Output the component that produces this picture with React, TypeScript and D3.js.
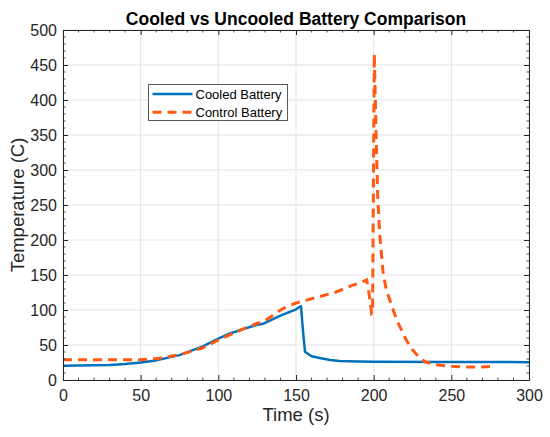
import * as d3 from "d3";
import { useRef, useEffect } from "react";

const WIDTH = 550;
const HEIGHT = 437;
const MARGIN = { top: 30, right: 21, bottom: 57, left: 63 };

const TITLE = "Cooled vs Uncooled Battery Comparison";
const X_LABEL = "Time (s)";
const Y_LABEL = "Temperature (C)";
const X_TICKS = [0, 50, 100, 150, 200, 250, 300];
const Y_TICKS = [0, 50, 100, 150, 200, 250, 300, 350, 400, 450, 500];
const SERIES_NAMES = ["Cooled Battery", "Control Battery"];
const COLORS = ["#0072BD", "#FF5A14"];

// cooled battery (solid)
const cooledTime = [0, 30, 40, 50, 60, 75, 90, 100, 107.5, 115, 125, 129, 140, 150, 153.2, 154.5, 155.8, 160, 166, 172, 178, 190, 200, 250, 300];
const cooledTemp = [20.5, 21.5, 23, 25, 28, 35.5, 48, 59, 66.5, 72, 79, 80.5, 92, 101, 105.7, 70, 40.4, 34, 31, 28.6, 27.2, 26.4, 26, 25.8, 25.5];

// control battery (dashed)
const controlTime = [0, 50, 60, 75, 90, 100, 115, 125, 129, 140, 145, 150, 165, 175, 185, 193, 195.5, 197, 198.7, 199.3, 200.4, 201.5, 202.6, 204, 206, 208, 211, 215, 221, 225, 229, 233, 240, 250, 260, 270, 278];
const controlTemp = [28.8, 29, 30.5, 36, 46, 57, 72, 81, 83, 100, 105.7, 110, 119, 125, 134, 140.5, 143, 124, 95, 96, 466, 357, 262, 205, 155, 130, 110, 85, 57, 43, 33, 26, 22, 19.5, 18.5, 18.5, 20];

const FONT = "'Liberation Sans', Arial, Helvetica, sans-serif";
const INK = "#262626";

export default function App() {
  const svgRef = useRef(null);

  useEffect(() => {
    const svg = d3.select(svgRef.current);
    svg.selectAll("*").remove();

    const iw = WIDTH - MARGIN.left - MARGIN.right;
    const ih = HEIGHT - MARGIN.top - MARGIN.bottom;

    const x = d3.scaleLinear().domain([0, 300]).range([0, iw]);
    const y = d3.scaleLinear().domain([0, 500]).range([ih, 0]);

    svg.append("rect").attr("width", WIDTH).attr("height", HEIGHT).attr("fill", "#fff");

    const g = svg.append("g").attr("transform", `translate(${MARGIN.left},${MARGIN.top})`);

    // grid
    g.append("g")
      .selectAll("line")
      .data(X_TICKS)
      .join("line")
      .attr("x1", (d) => x(d))
      .attr("x2", (d) => x(d))
      .attr("y1", 0)
      .attr("y2", ih)
      .attr("stroke", "#e3e3e3");
    g.append("g")
      .selectAll("line")
      .data(Y_TICKS)
      .join("line")
      .attr("y1", (d) => y(d))
      .attr("y2", (d) => y(d))
      .attr("x1", 0)
      .attr("x2", iw)
      .attr("stroke", "#e3e3e3");

    // lines
    const cooled = cooledTime.map((t, i) => [t, cooledTemp[i]]);
    const control = controlTime.map((t, i) => [t, controlTemp[i]]);
    const line = d3.line().x((d) => x(d[0])).y((d) => y(d[1]));

    g.append("path")
      .attr("d", line(cooled))
      .attr("fill", "none")
      .attr("stroke", COLORS[0])
      .attr("stroke-width", 2.5)
      .attr("stroke-linejoin", "round");
    g.append("path")
      .attr("d", line(control))
      .attr("fill", "none")
      .attr("stroke", COLORS[1])
      .attr("stroke-width", 3)
      .attr("stroke-dasharray", "9,6");

    // minor ticks, all four sides
    const xMinor = d3.range(0, 301, 10).filter((v) => v % 50 !== 0);
    const yMinor = d3.range(0, 501, 10).filter((v) => v % 50 !== 0);
    const minor = g.append("g").attr("stroke", INK).attr("stroke-width", 0.8);
    xMinor.forEach((v) => {
      minor.append("line").attr("x1", x(v)).attr("x2", x(v)).attr("y1", ih).attr("y2", ih - 2.5);
      minor.append("line").attr("x1", x(v)).attr("x2", x(v)).attr("y1", 0).attr("y2", 2.5);
    });
    yMinor.forEach((v) => {
      minor.append("line").attr("y1", y(v)).attr("y2", y(v)).attr("x1", 0).attr("x2", 2.5);
      minor.append("line").attr("y1", y(v)).attr("y2", y(v)).attr("x1", iw).attr("x2", iw - 2.5);
    });

    // axes
    const bottom = g.append("g")
      .attr("transform", `translate(0,${ih})`)
      .call(d3.axisBottom(x).tickValues(X_TICKS).tickSize(-5).tickSizeOuter(0).tickPadding(10));
    const left = g.append("g")
      .call(d3.axisLeft(y).tickValues(Y_TICKS).tickSize(-5).tickSizeOuter(0).tickPadding(6));
    const top = g.append("g")
      .call(d3.axisTop(x).tickValues(X_TICKS).tickSize(-5).tickSizeOuter(0).tickFormat(() => ""));
    const right = g.append("g")
      .attr("transform", `translate(${iw},0)`)
      .call(d3.axisRight(y).tickValues(Y_TICKS).tickSize(-5).tickSizeOuter(0).tickFormat(() => ""));

    [bottom, left, top, right].forEach((a) => {
      a.select(".domain").attr("stroke", INK);
      a.selectAll(".tick line").attr("stroke", INK);
      a.selectAll("text")
        .attr("fill", INK)
        .style("font-family", FONT)
        .style("font-size", "16px");
    });

    // legend
    const lg = svg.append("g").attr("transform", "translate(148.5,84.5)");
    lg.append("rect")
      .attr("width", 139)
      .attr("height", 36)
      .attr("fill", "#fff")
      .attr("stroke", "#5a5a5a");
    SERIES_NAMES.forEach((name, i) => {
      const ly = 9.5 + i * 18.3;
      lg.append("line")
        .attr("x1", 4)
        .attr("x2", 44)
        .attr("y1", ly)
        .attr("y2", ly)
        .attr("stroke", COLORS[i])
        .attr("stroke-width", i === 0 ? 2.5 : 3)
        .attr("stroke-dasharray", i === 0 ? null : "9,6");
      lg.append("text")
        .attr("x", 47)
        .attr("y", ly + 4.5)
        .attr("fill", "#000")
        .style("font-family", FONT)
        .style("font-size", "13px")
        .text(name);
    });

    // title and labels
    svg.append("text")
      .attr("x", MARGIN.left + iw / 2)
      .attr("y", 24.5)
      .attr("text-anchor", "middle")
      .attr("fill", "#000")
      .style("font-family", FONT)
      .style("font-weight", "bold")
      .style("font-size", "17.5px")
      .text(TITLE);
    svg.append("text")
      .attr("x", MARGIN.left + iw / 2)
      .attr("y", 421)
      .attr("text-anchor", "middle")
      .attr("fill", INK)
      .style("font-family", FONT)
      .style("font-size", "18.5px")
      .text(X_LABEL);
    svg.append("text")
      .attr("transform", `translate(24,${MARGIN.top + ih / 2}) rotate(-90)`)
      .attr("text-anchor", "middle")
      .attr("fill", INK)
      .style("font-family", FONT)
      .style("font-size", "18.5px")
      .text(Y_LABEL);
  }, []);

  return (
    <svg
      ref={svgRef}
      width={WIDTH}
      height={HEIGHT}
      style={{ position: "absolute", left: 0, top: 0 }}
    />
  );
}
